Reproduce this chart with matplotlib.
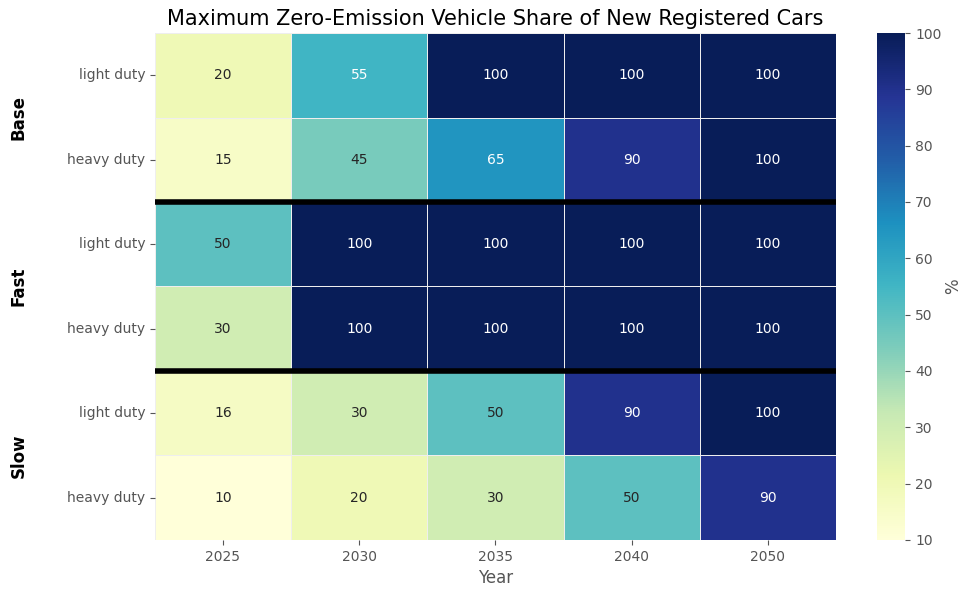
import numpy as np
import matplotlib.pyplot as plt
import seaborn as sns

years = ["2025", "2030", "2035", "2040", "2050"]
scenarios = ["Base", "Fast", "Slow"]
vehicles = ["light duty", "heavy duty"]

base_light = [20, 55, 100, 100, 100]
base_heavy = [15, 45, 65, 90, 100]
fast_light = [50, 100, 100, 100, 100]
fast_heavy = [30, 100, 100, 100, 100]
slow_light = [16, 30, 50, 90, 100]
slow_heavy = [10, 20, 30, 50, 90]

data = np.array([base_light, base_heavy, fast_light, fast_heavy, slow_light, slow_heavy])
grey = "#555555"

fig = plt.figure(figsize=(9.62, 5.9), dpi=100)
ax = fig.add_axes([0.161, 0.085, 0.708, 0.859])
cax = fig.add_axes([0.912, 0.085, 0.029, 0.859])

sns.heatmap(data, ax=ax, cbar_ax=cax, cmap="YlGnBu", vmin=10, vmax=100,
            annot=True, fmt="d", linewidths=0.6, linecolor="#eeeeee",
            annot_kws={"fontsize": 10},
            xticklabels=years, yticklabels=vehicles * 3,
            cbar_kws={"label": "%"})

for y in [2, 4]:
    ax.axhline(y, color="black", linewidth=4)

for i, s in enumerate(scenarios):
    ax.text(-0.2, 1 - (2 * i + 1) / 6, s, transform=ax.transAxes, rotation=90,
            ha="center", va="center", fontsize=12, fontweight="bold")

ax.set_title("Maximum Zero-Emission Vehicle Share of New Registered Cars", fontsize=15)
ax.set_xlabel("Year", fontsize=12, color=grey)
ax.tick_params(colors=grey, labelsize=10)
ax.tick_params(axis="y", rotation=0)
cax.tick_params(colors=grey, labelsize=10)
cax.set_ylabel("%", fontsize=12, color=grey, labelpad=2)

plt.savefig("out.png")
